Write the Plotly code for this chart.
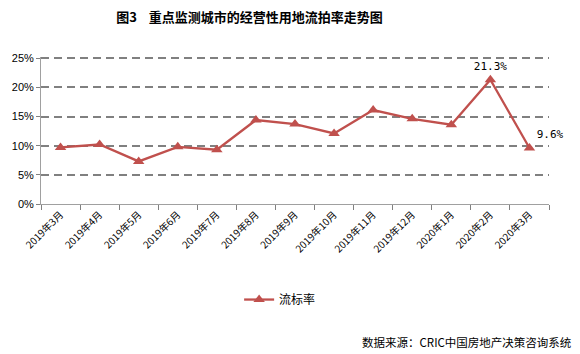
import plotly.graph_objects as go

categories = ["2019年3月", "2019年4月", "2019年5月", "2019年6月", "2019年7月", "2019年8月",
              "2019年9月", "2019年10月", "2019年11月", "2019年12月", "2020年1月", "2020年2月", "2020年3月"]
values = [9.7, 10.2, 7.3, 9.8, 9.3, 14.4, 13.7, 12.1, 16.1, 14.6, 13.6, 21.3, 9.6]
labels = ["", "", "", "", "", "", "", "", "", "", "", "21.3%", "9.6%"]
label_pos = ["top center"] * 12 + ["top right"]
y_ticks = [0, 5, 10, 15, 20, 25]
y_tick_text = ["0%", "5%", "10%", "15%", "20%", "25%"]

RED = "#C0504D"
CJK = "Noto Sans CJK SC"

fig = go.Figure()
fig.add_trace(go.Scatter(
    x=categories, y=values, name="流标率",
    mode="lines+markers+text",
    line=dict(color=RED, width=2.3),
    marker=dict(symbol="triangle-up", size=10, color=RED),
    text=labels, textposition=label_pos, cliponaxis=False,
    textfont=dict(family="DejaVu Sans Mono", size=11, color="#000000"),
))

fig.update_layout(
    width=580, height=354,
    margin=dict(l=39, r=31, t=57, b=150),
    paper_bgcolor="white", plot_bgcolor="white",
    font=dict(family=CJK, color="#000000"),
    title=dict(text="<b>图3    重点监测城市的经营性用地流拍率走势图</b>",
               x=0.43, xanchor="center", y=0.95, yanchor="middle",
               font=dict(family=CJK, size=13, color="#000000")),
    showlegend=True,
    legend=dict(x=0.39, y=-0.65, xanchor="left", yanchor="middle",
                orientation="h", font=dict(family=CJK, size=12, color="#000000"),
                bgcolor="rgba(0,0,0,0)"),
    xaxis=dict(type="category", tickson="boundaries", ticks="outside", ticklen=5,
               tickcolor="#808080", showline=True, linecolor="#A0A0A0", linewidth=1,
               showgrid=False, tickangle=-45,
               tickfont=dict(family=CJK, size=10, color="#000000"),
               range=[-0.5, 12.5]),
    yaxis=dict(range=[0, 25.2], tickvals=y_ticks, ticktext=y_tick_text,
               showline=True, linecolor="#A0A0A0", linewidth=1,
               ticks="outside", ticklen=4, tickcolor="#808080",
               showgrid=True, gridcolor="#808080", gridwidth=2, griddash="8px,5px",
               zeroline=False,
               tickfont=dict(family="Liberation Sans", size=11, color="#000000")),
    annotations=[dict(text="数据来源：CRIC中国房地产决策咨询系统", xref="paper", yref="paper",
                      x=1.05, y=-0.94, xanchor="right", yanchor="middle", showarrow=False,
                      font=dict(family=CJK, size=11.5, color="#000000"))],
)

fig.write_html("out.html")
